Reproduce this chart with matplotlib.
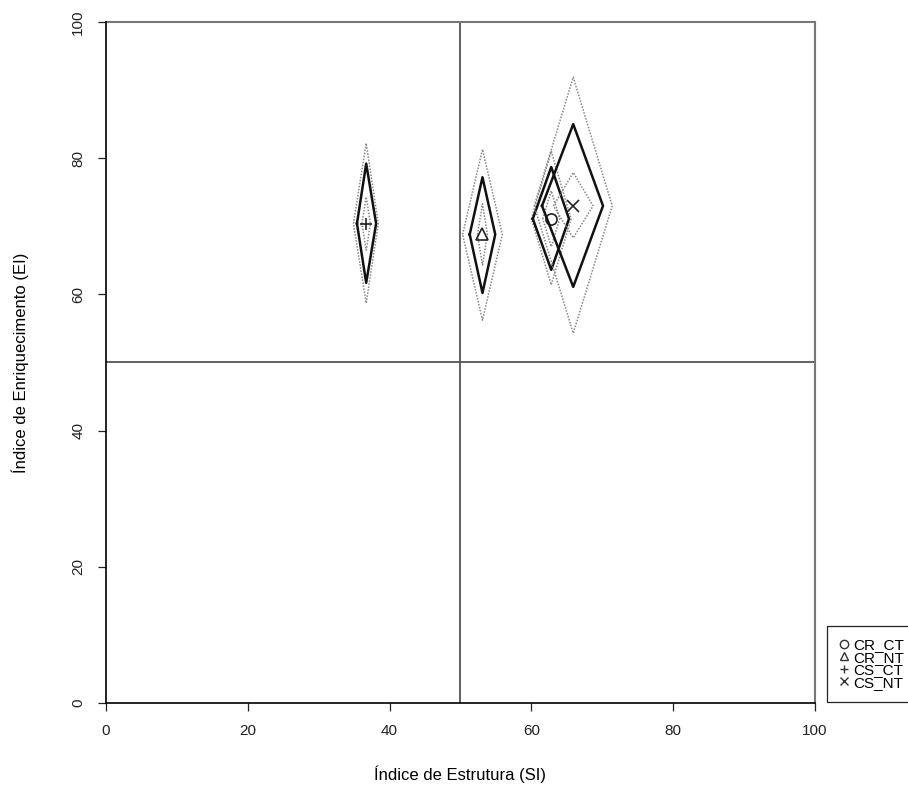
import matplotlib
matplotlib.use("Agg")
import matplotlib.pyplot as plt

plt.rcParams['font.family'] = ['Liberation Sans', 'DejaVu Sans']

# treatments and mean positions
labels = ["CR_CT", "CR_NT", "CS_CT", "CS_NT"]
markers = ["o", "^", "+", "x"]
si_mean = [62.8, 53.1, 36.7, 65.9]
ei_mean = [71.1, 68.8, 70.4, 73.0]

# diamond bounds (low, high) for SI and EI
# inner dotted
si_inner = [(61.6, 64.0), (52.4, 53.8), (36.1, 37.3), (63.1, 68.7)]
ei_inner = [(67.0, 75.2), (64.3, 73.3), (66.5, 74.3), (68.3, 77.9)]
# solid
si_mid = [(60.2, 65.3), (51.3, 54.9), (35.4, 38.1), (61.5, 70.1)]
ei_mid = [(63.6, 78.7), (60.2, 77.2), (61.7, 79.2), (61.1, 85.0)]
# outer dotted
si_outer = [(60.0, 65.6), (50.3, 55.9), (34.9, 38.4), (60.4, 71.4)]
ei_outer = [(61.4, 81.0), (56.2, 81.3), (58.7, 82.2), (54.3, 91.9)]


def diamond(ax, x, y, xr, yr, **kw):
    xs = [xr[0], x, xr[1], x, xr[0]]
    ys = [y, yr[1], y, yr[0], y]
    ax.plot(xs, ys, **kw)


fig = plt.figure(figsize=(9.08, 7.85), dpi=100)
ax = fig.add_axes([0.1167, 0.1045, 0.7809, 0.8675])

# quadrant lines and frame
ax.axvline(50, color="#555555", lw=1.3)
ax.axhline(50, color="#555555", lw=1.3)
ax.axvline(100, color="#777777", lw=1.5, clip_on=False)
ax.axhline(100, color="#777777", lw=1.5, clip_on=False)

for i in range(len(labels)):
    diamond(ax, si_mean[i], ei_mean[i], si_outer[i], ei_outer[i],
            color="#888888", lw=1.1, ls=(0, (1, 1)))
    diamond(ax, si_mean[i], ei_mean[i], si_inner[i], ei_inner[i],
            color="#888888", lw=1.1, ls=(0, (1, 1)))
    diamond(ax, si_mean[i], ei_mean[i], si_mid[i], ei_mid[i],
            color="#111111", lw=1.8)
    ax.plot(si_mean[i], ei_mean[i], marker=markers[i], ls="none",
            mfc="none", mec="#222222", ms=8, mew=1.2)

ax.set_xlim(0, 100)
ax.set_ylim(0, 100)
ax.set_xticks(range(0, 101, 20))
ax.set_yticks(range(0, 101, 20))
ax.tick_params(direction="out", length=6, width=0.9, labelsize=11, pad=9,
               colors="#222222")
for lab in ax.get_yticklabels():
    lab.set_rotation(90)
    lab.set_va("center")
ax.spines["top"].set_visible(False)
ax.spines["right"].set_visible(False)
ax.spines["left"].set_linewidth(1.2)
ax.spines["bottom"].set_linewidth(1.2)

ax.set_xlabel("Índice de Estrutura (SI)", fontsize=12, labelpad=20)
ax.set_ylabel("Índice de Enriquecimento (EI)", fontsize=12, labelpad=30)

handles = [plt.Line2D([], [], marker=m, ls="none", mfc="none", mec="#333333",
                      ms=6, mew=1) for m in markers]
leg = fig.legend(handles, labels, loc="lower left",
                 bbox_to_anchor=(0.911, 0.106), bbox_transform=fig.transFigure,
                 fontsize=11, labelspacing=-0.1, handlelength=0.6,
                 handletextpad=0.3, borderpad=0.8, borderaxespad=0,
                 fancybox=False, edgecolor="#222222", framealpha=1)
leg.get_frame().set_linewidth(0.9)

fig.savefig("out.png", dpi=100)
